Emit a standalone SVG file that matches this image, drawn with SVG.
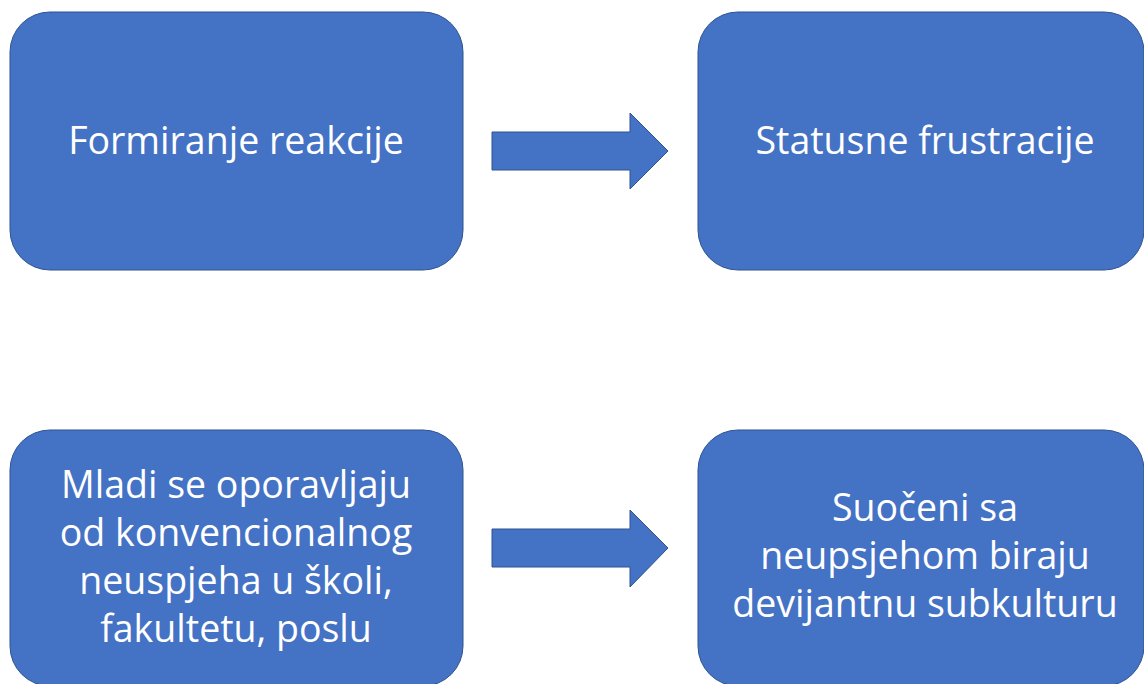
<svg xmlns="http://www.w3.org/2000/svg" width="1144" height="684" viewBox="0 0 1144 684">
<style>
.box{fill:#4472C4;stroke:#2F528F;stroke-width:1}
.arr{fill:#4472C4;stroke:#2F528F;stroke-width:1}
.t{fill:#FFFFFF;font-family:"Open Sans","Noto Sans",sans-serif;font-size:37.5px;text-anchor:middle}
</style>
<rect width="1144" height="684" fill="#FFFFFF"/>
<g id="node-formiranje">
<rect class="box" x="10" y="12" width="453" height="258" rx="40" ry="40"/>
<text class="t" x="236" y="154">Formiranje reakcije</text>
</g>
<g id="node-statusne">
<rect class="box" x="698" y="12" width="446" height="258" rx="40" ry="40"/>
<text class="t" x="925" y="154">Statusne frustracije</text>
</g>
<g id="node-mladi">
<rect class="box" x="10" y="430" width="453" height="256" rx="40" ry="40"/>
<text class="t" x="236" y="498">Mladi se oporavljaju</text>
<text class="t" x="236" y="546">od konvencionalnog</text>
<text class="t" x="236" y="594">neuspjeha u školi,</text>
<text class="t" x="236" y="642">fakultetu, poslu</text>
</g>
<g id="node-suoceni">
<rect class="box" x="698" y="430" width="446" height="256" rx="40" ry="40"/>
<text class="t" x="925" y="521">Suočeni sa</text>
<text class="t" x="925" y="569">neupsjehom biraju</text>
<text class="t" x="925" y="617">devijantnu subkulturu</text>
</g>
<g id="connectors">
<polygon class="arr" points="492,132 630,132 630,113 668,151 630,189 630,170 492,170"/>
<polygon class="arr" points="492,529 630,529 630,510 668,548 630,587 630,567 492,567"/>
</g>
</svg>
